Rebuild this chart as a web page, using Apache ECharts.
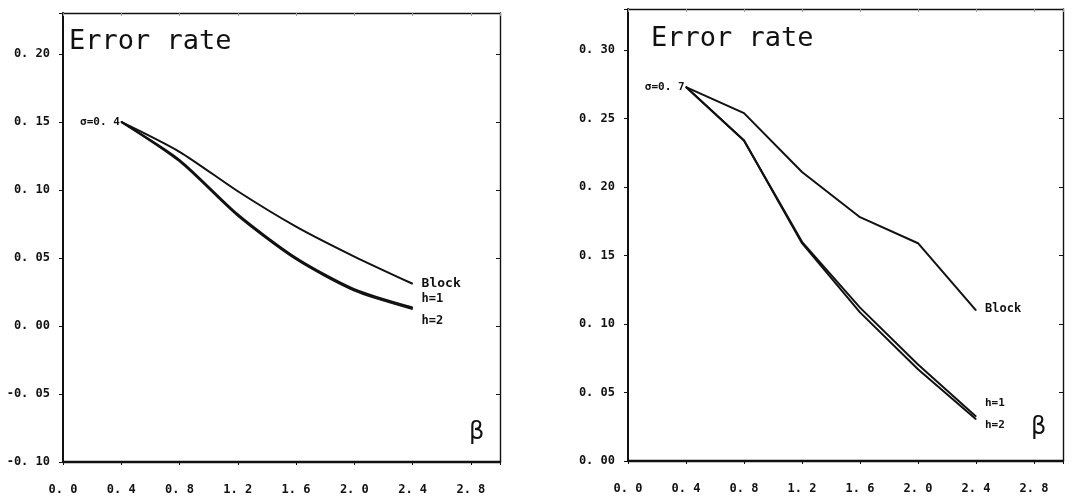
<!DOCTYPE html>
<html><head><meta charset="utf-8">
<script src="https://cdn.jsdelivr.net/npm/echarts@6/dist/echarts.min.js"></script>
<style>html,body{margin:0;padding:0;background:#fff}#c{width:1085px;height:503px}</style>
</head><body><div id="c"></div>
<script>
// ---- data ----
const beta = [0.4, 0.8, 1.2, 1.6, 2.0, 2.4];
const leftBlock = [0.150, 0.128, 0.099, 0.073, 0.051, 0.031];
const leftH1    = [0.150, 0.122, 0.082, 0.050, 0.027, 0.0135];
const leftH2    = [0.150, 0.121, 0.081, 0.049, 0.026, 0.0125];
const rightBlock = [0.273, 0.254, 0.211, 0.178, 0.159, 0.110];
const rightH1    = [0.273, 0.234, 0.160, 0.112, 0.0705, 0.0325];
const rightH2    = [0.273, 0.234, 0.159, 0.1085, 0.067, 0.0305];
const xTickValues = [0.0, 0.4, 0.8, 1.2, 1.6, 2.0, 2.4, 2.8];
const xTickLabels = ['0. 0', '0. 4', '0. 8', '1. 2', '1. 6', '2. 0', '2. 4', '2. 8'];
const leftYTickValues = [-0.10, -0.05, 0.00, 0.05, 0.10, 0.15, 0.20];
const leftYTickLabels = ['-0. 10', '-0. 05', '0. 00', '0. 05', '0. 10', '0. 15', '0. 20'];
const rightYTickValues = [0.00, 0.05, 0.10, 0.15, 0.20, 0.25, 0.30];
const rightYTickLabels = ['0. 00', '0. 05', '0. 10', '0. 15', '0. 20', '0. 25', '0. 30'];
const seriesNames = ['Block', 'h=1', 'h=2'];
const alphaLabels = ['σ=0. 4', 'σ=0. 7'];
const panelTitle = 'Error rate';
const axisName = 'β';

// ---- helpers ----
const INK = '#111111';
const FONT = 'DejaVu Sans Mono';
function lookup(vals, labels) {
  return function (v) {
    for (let i = 0; i < vals.length; i++) if (Math.abs(vals[i] - v) < 1e-6) return labels[i];
    return '';
  };
}
function xAxes(gi) {
  return [{
    type: 'value', gridIndex: gi, min: 0, max: 3.0, interval: 0.4, position: 'bottom',
    axisLine: { show: true, onZero: false, lineStyle: { color: INK, width: 2.4 } },
    axisTick: { show: true, length: 3, lineStyle: { color: INK, width: 1 } },
    axisLabel: { formatter: lookup(xTickValues, xTickLabels), margin: 22, fontFamily: FONT, fontWeight: 'bold', fontSize: 12, color: INK },
    splitLine: { show: false }
  }, {
    type: 'value', gridIndex: gi, min: 0, max: 3.0, interval: 0.4, position: 'top',
    axisLine: { show: true, onZero: false, lineStyle: { color: INK, width: 1.4 } },
    axisTick: { show: true, inside: true, length: 3, lineStyle: { color: '#999', width: 1 } },
    axisLabel: { show: false }, splitLine: { show: false }
  }];
}
function yAxes(gi, min, max, vals, labels) {
  return [{
    type: 'value', gridIndex: gi, min: min, max: max, interval: 0.05, position: 'left',
    axisLine: { show: true, onZero: false, lineStyle: { color: INK, width: 2 } },
    axisTick: { show: true, length: 4, lineStyle: { color: INK, width: 1 } },
    axisLabel: { formatter: lookup(vals, labels), margin: 13, fontFamily: FONT, fontWeight: 'bold', fontSize: 12, color: INK },
    splitLine: { show: false }
  }, {
    type: 'value', gridIndex: gi, min: min, max: max, interval: 0.05, position: 'right',
    axisLine: { show: true, onZero: false, lineStyle: { color: INK, width: 1.4 } },
    axisTick: { show: true, inside: true, length: 4, lineStyle: { color: INK, width: 1 } },
    axisLabel: { show: false }, splitLine: { show: false }
  }];
}
function mkSeries(name, xi, yi, vals, smooth, endOffset, alphaText, endSize) {
  const data = beta.map((b, i) => {
    const item = { value: [b, vals[i]] };
    if (i === 0 && alphaText) {
      item.label = { show: true, position: 'left', distance: 1, formatter: alphaText,
        fontFamily: FONT, fontWeight: 'bold', fontSize: 11, color: INK };
    }
    return item;
  });
  return {
    type: 'line', name: name, xAxisIndex: xi, yAxisIndex: yi, data: data,
    smooth: smooth, symbol: 'circle', symbolSize: 1, itemStyle: { color: INK },
    lineStyle: { color: INK, width: 2 }, label: { show: false },
    endLabel: { show: true, formatter: name, offset: endOffset, distance: 9,
      fontFamily: FONT, fontWeight: 'bold', fontSize: endSize, color: INK },
    emphasis: { disabled: true }, animation: false
  };
}

const option = {
  backgroundColor: '#ffffff',
  animation: false,
  title: [
    { text: panelTitle, left: 64, top: 23, textStyle: { fontFamily: FONT, fontWeight: 'normal', fontSize: 27, color: INK } },
    { text: panelTitle, left: 646, top: 20, textStyle: { fontFamily: FONT, fontWeight: 'normal', fontSize: 27, color: INK } },
    { text: axisName, left: 464, top: 416, textStyle: { fontFamily: 'DejaVu Sans', fontWeight: 'normal', fontSize: 24, color: INK } },
    { text: axisName, left: 1026, top: 411, textStyle: { fontFamily: 'DejaVu Sans', fontWeight: 'normal', fontSize: 24, color: INK } }
  ],
  grid: [
    { left: 63, top: 13, width: 437, height: 449, show: false },
    { left: 628, top: 9, width: 435, height: 452, show: false }
  ],
  xAxis: [...xAxes(0), ...xAxes(1)],
  yAxis: [...yAxes(0, -0.10, 0.23, leftYTickValues, leftYTickLabels), ...yAxes(1, 0.0, 0.33, rightYTickValues, rightYTickLabels)],
  series: [
    mkSeries(seriesNames[0], 0, 0, leftBlock, 0.25, [0, 0], alphaLabels[0], 13),
    mkSeries(seriesNames[1], 0, 0, leftH1, 0.25, [0, -9], null, 12),
    mkSeries(seriesNames[2], 0, 0, leftH2, 0.25, [0, 12], null, 12),
    mkSeries(seriesNames[0], 2, 2, rightBlock, false, [0, -1], alphaLabels[1], 12),
    mkSeries(seriesNames[1], 2, 2, rightH1, false, [0, -13], null, 11),
    mkSeries(seriesNames[2], 2, 2, rightH2, false, [0, 6], null, 11)
  ]
};
const chart = echarts.init(document.getElementById('c'), null, { renderer: 'canvas' });
chart.setOption(option);
</script>
</body></html>
